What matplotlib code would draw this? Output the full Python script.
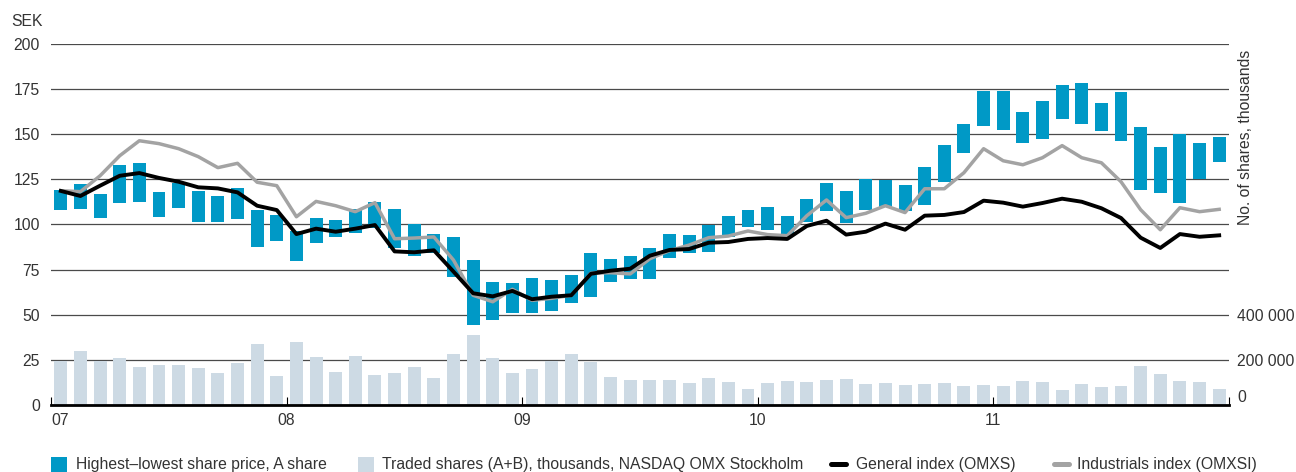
import numpy as np
import matplotlib
matplotlib.use("Agg")
import matplotlib.pyplot as plt
from matplotlib.patches import Rectangle
from matplotlib.lines import Line2D
from matplotlib.ticker import FuncFormatter

plt.rcParams['font.family'] = ['Liberation Sans', 'DejaVu Sans']

# Monthly data, Jan 2007 - Dec 2011
year_labels = ['07', '08', '09', '10', '11']

price_high = [119.1, 122.4, 116.9, 133.0, 134.1, 118.0, 123.2, 118.6, 115.8, 120.0, 108.0, 105.3,
              96.4, 103.6, 102.5, 108.4, 112.5, 108.4, 100.3, 94.7, 93.1, 80.3, 68.1, 67.6,
              70.4, 69.3, 72.0, 84.2, 80.9, 82.5, 87.0, 94.7, 94.2, 99.7, 104.7, 108.0,
              109.7, 104.7, 114.1, 123.0, 118.6, 125.2, 124.7, 121.9, 131.9, 144.0, 155.7, 174.0,
              174.0, 162.3, 168.4, 177.3, 178.4, 167.3, 173.4, 154.0, 142.9, 150.1, 145.2, 148.5]

price_low = [108.2, 108.6, 103.8, 112.1, 112.6, 104.3, 109.3, 101.6, 101.6, 103.2, 87.7, 91.0,
             80.0, 89.9, 93.2, 95.5, 98.2, 87.0, 82.7, 84.0, 71.1, 44.5, 47.3, 51.1,
             51.1, 52.3, 56.7, 60.0, 68.3, 70.0, 70.0, 81.6, 84.4, 84.9, 93.2, 98.8,
             97.1, 94.4, 101.6, 107.6, 101.0, 108.0, 109.9, 107.6, 111.0, 123.7, 139.8, 154.7,
             152.5, 145.3, 147.5, 158.6, 155.8, 152.0, 146.4, 119.3, 117.6, 112.1, 125.2, 134.8]

general_index = [118.6, 115.8, 121.5, 127.0, 128.5, 125.8, 123.7, 120.6, 120.0, 117.8, 110.4, 108.0,
                 94.7, 97.7, 96.0, 97.7, 99.7, 85.1, 84.6, 85.7, 73.9, 61.9, 60.2, 63.2,
                 58.6, 60.0, 60.8, 72.7, 74.4, 75.5, 82.7, 85.9, 86.4, 89.9, 90.3, 92.0,
                 92.5, 92.0, 99.2, 102.1, 94.4, 96.0, 100.5, 97.1, 104.9, 105.3, 106.9, 113.2,
                 112.1, 109.9, 111.9, 114.3, 112.6, 109.0, 103.6, 92.7, 87.0, 94.7, 93.2, 94.0]

industrials_index = [118.7, 118.2, 127.0, 138.1, 146.4, 144.8, 142.0, 137.6, 131.5, 133.9, 123.4, 121.5,
                     104.3, 112.8, 110.4, 107.1, 112.1, 92.1, 92.5, 93.1, 80.3, 60.8, 57.2, 64.1,
                     58.0, 59.1, 60.8, 73.0, 73.3, 72.6, 81.0, 85.5, 88.6, 92.7, 93.6, 96.4,
                     94.4, 93.8, 104.9, 113.6, 103.8, 106.2, 110.4, 106.6, 119.8, 119.8, 128.7, 142.0,
                     135.3, 133.1, 137.0, 143.7, 137.0, 134.2, 123.7, 108.2, 97.1, 109.3, 107.1, 108.4]

traded_shares = [195000, 239000, 196000, 208000, 168000, 177000, 177000, 164000, 142000, 186000, 270000, 129000,
                 279000, 213000, 146000, 217000, 133000, 142000, 168000, 120000, 226000, 310000, 208000, 142000,
                 160000, 195000, 226000, 192000, 124000, 111000, 111000, 111000, 97500, 120000, 102000, 71000,
                 97500, 106000, 102000, 111000, 115000, 93000, 97500, 89000, 93000, 97500, 84000, 89000,
                 84000, 106000, 102000, 66000, 93000, 80000, 84000, 173000, 137000, 106000, 102000, 71000]

BLUE = '#0099C6'
LIGHT = '#CDDAE4'
GREY = '#A3A3A3'
TEXT = '#333333'
FS = 11.3

months = np.arange(len(price_high))
high = np.array(price_high)
low = np.array(price_low)

fig = plt.figure(figsize=(12.96, 4.72), dpi=100)
W, H = 1296, 472
rect = [51 / W, (H - 405) / H, (1229 - 51) / W, (405 - 44) / H]

# Volume axis (behind), carries the horizontal grid
ax_vol = fig.add_axes(rect)
ax_vol.bar(months, traded_shares, width=0.66, color=LIGHT, zorder=2)
ax_vol.set_ylim(0, 1_600_000)
ax_vol.set_yticks(np.arange(0, 1_600_001, 200_000))
ax_vol.yaxis.tick_right()
ax_vol.yaxis.set_major_formatter(FuncFormatter(
    lambda v, p: (f"{int(v):,}".replace(',', ' ') if v <= 400_000 else '')))
ax_vol.tick_params(axis='y', length=0, pad=6, labelsize=FS, labelcolor=TEXT)
ax_vol.tick_params(axis='x', bottom=False, labelbottom=False)
ax_vol.grid(axis='y', color='#4a4a4a', linewidth=0.9, zorder=0)
ax_vol.set_axisbelow(True)
for s in ax_vol.spines.values():
    s.set_visible(False)
for lab in ax_vol.get_yticklabels():
    if lab.get_text() == '0':
        lab.set_va('bottom')

# Price axis (on top)
ax = fig.add_axes(rect, sharex=ax_vol)
ax.patch.set_visible(False)
ax.bar(months, high - low, bottom=low, width=0.66, color=BLUE, zorder=2)
ax.plot(months, industrials_index, color=GREY, linewidth=2.5, zorder=3)
ax.plot(months, general_index, color='black', linewidth=2.8, zorder=4)
ax.set_ylim(0, 200)
ax.set_yticks(np.arange(0, 201, 25))
ax.tick_params(axis='y', length=0, pad=8, labelsize=FS, labelcolor=TEXT)
ax.set_xlim(-0.5, 59.5)
ax.set_xticks([-0.5, 11.5, 23.5, 35.5, 47.5, 59.5])
ax.set_xticklabels(year_labels + [''])
ax.tick_params(axis='x', direction='in', length=5.8, width=0.8, color='black',
               pad=6, labelsize=FS, labelcolor=TEXT)
ax.get_xticklabels()[0].set_ha('left')
for name, s in ax.spines.items():
    s.set_visible(name == 'bottom')
ax.spines['bottom'].set_linewidth(2)
ax.spines['bottom'].set_color('black')
ax.spines['bottom'].set_zorder(5)

fig.text(43 / W, (H - 22) / H, 'SEK', ha='right', va='center', fontsize=FS, color=TEXT)
fig.text(1245 / W, (H - 50) / H, 'No. of shares, thousands', rotation=90,
         ha='center', va='top', fontsize=FS, color=TEXT)

# Legend row
ly = (H - 464) / H
fig.add_artist(Rectangle((51 / W, 0), 16 / W, 15 / H, transform=fig.transFigure,
                         color=BLUE, lw=0))
fig.text(76 / W, ly, 'Highest\u2013lowest share price, A share', va='center',
         fontsize=FS, color=TEXT)
fig.add_artist(Rectangle((358 / W, 0), 16 / W, 15 / H, transform=fig.transFigure,
                         color=LIGHT, lw=0))
fig.text(382 / W, ly, 'Traded shares (A+B), thousands, NASDAQ OMX Stockholm', va='center',
         fontsize=FS, color=TEXT)
fig.add_artist(Line2D([831 / W, 846 / W], [ly, ly], transform=fig.transFigure,
                      color='black', linewidth=3.6, solid_capstyle='round'))
fig.text(856 / W, ly, 'General index (OMXS)', va='center', fontsize=FS, color=TEXT)
fig.add_artist(Line2D([1054 / W, 1069 / W], [ly, ly], transform=fig.transFigure,
                      color=GREY, linewidth=3.6, solid_capstyle='round'))
fig.text(1077 / W, ly, 'Industrials index (OMXSI)', va='center', fontsize=FS, color=TEXT)

fig.savefig('out.png', dpi=100)
